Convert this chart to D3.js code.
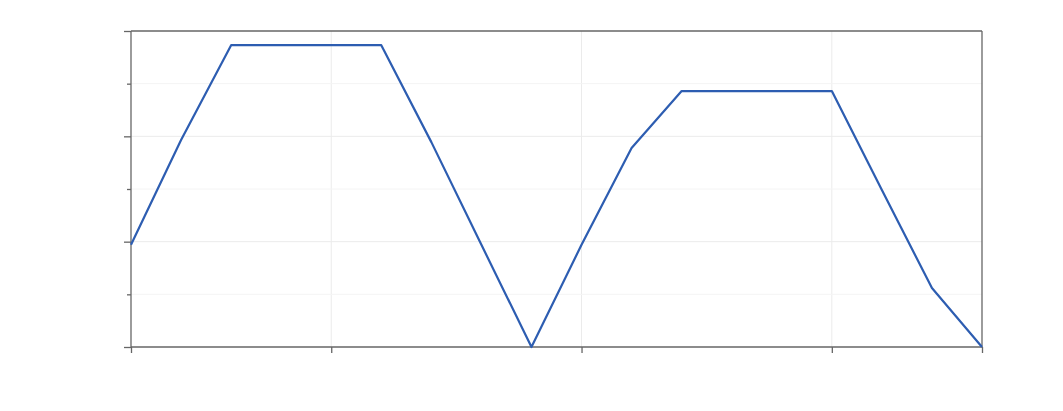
<!DOCTYPE html>
<html><head><meta charset="utf-8">
<script src="https://cdn.jsdelivr.net/npm/d3@7"></script>
<style>body{margin:0;background:#fff}</style>
</head><body>
<svg id="c" width="1063" height="411"></svg>
<script>
const xValues = [1,2,3,4,5,6,7,8,9,10,11,12,13,14,15,16,17,18];
const yValues = [1.94,3.93,5.73,5.73,5.73,5.73,3.89,1.94,0.0,1.94,3.78,4.86,4.86,4.86,4.86,2.98,1.12,0.0];
const xTicks = [1,5,10,15,18];
const yMajorTicks = [0,2,4,6];
const yMinorTicks = [1,3,5];

const svg = d3.select("#c");
const L=131,R=982,T=31,B=347;
const x = d3.scaleLinear().domain([1,18]).range([L,R]);
const y = d3.scaleLinear().domain([0,6]).range([B,T]);
const gridC="#ebebeb", axC="#666";

// grid
svg.append("g").selectAll("line").data(xTicks.filter(d=>d>1&&d<18)).join("line")
  .attr("x1",d=>x(d)).attr("x2",d=>x(d)).attr("y1",T).attr("y2",B).attr("stroke",gridC).attr("stroke-width",1);
svg.append("g").selectAll("line").data(yMajorTicks.filter(d=>d>0&&d<6)).join("line")
  .attr("y1",d=>y(d)).attr("y2",d=>y(d)).attr("x1",L).attr("x2",R).attr("stroke",gridC).attr("stroke-width",1);
svg.append("g").selectAll("line").data(yMinorTicks).join("line")
  .attr("y1",d=>y(d)).attr("y2",d=>y(d)).attr("x1",L).attr("x2",R).attr("stroke","#f4f4f4").attr("stroke-width",1);

// axes
const xAxis = svg.append("g").attr("transform",`translate(0,${B})`)
  .call(d3.axisBottom(x).tickValues(xTicks).tickSize(6).tickFormat(""));
const yAxis = svg.append("g").attr("transform",`translate(${L},0)`)
  .call(d3.axisLeft(y).tickValues(yMajorTicks).tickSize(7).tickFormat(""));
const yMinor = svg.append("g").attr("transform",`translate(${L},0)`)
  .call(d3.axisLeft(y).tickValues(yMinorTicks).tickSize(4).tickFormat(""));
yMinor.select(".domain").remove();
[xAxis,yAxis,yMinor].forEach(g=>{
  g.selectAll("path,line").attr("stroke",axC).attr("stroke-width",1.3);
});
xAxis.select(".domain").attr("d",`M${L},0H${R}`);
yAxis.select(".domain").attr("d",`M0,${B}V${T}`);
// top and right frame
svg.append("line").attr("x1",L).attr("x2",R).attr("y1",T).attr("y2",T).attr("stroke",axC).attr("stroke-width",1.3);
svg.append("line").attr("x1",R).attr("x2",R).attr("y1",T).attr("y2",B).attr("stroke",axC).attr("stroke-width",1.3);

// line
const line = d3.line().x((d,i)=>x(xValues[i])).y(d=>y(d));
svg.append("path").datum(yValues).attr("d",line).attr("fill","none")
  .attr("stroke","#2d5db1").attr("stroke-width",2.2).attr("stroke-linejoin","round");
</script>
</body></html>
